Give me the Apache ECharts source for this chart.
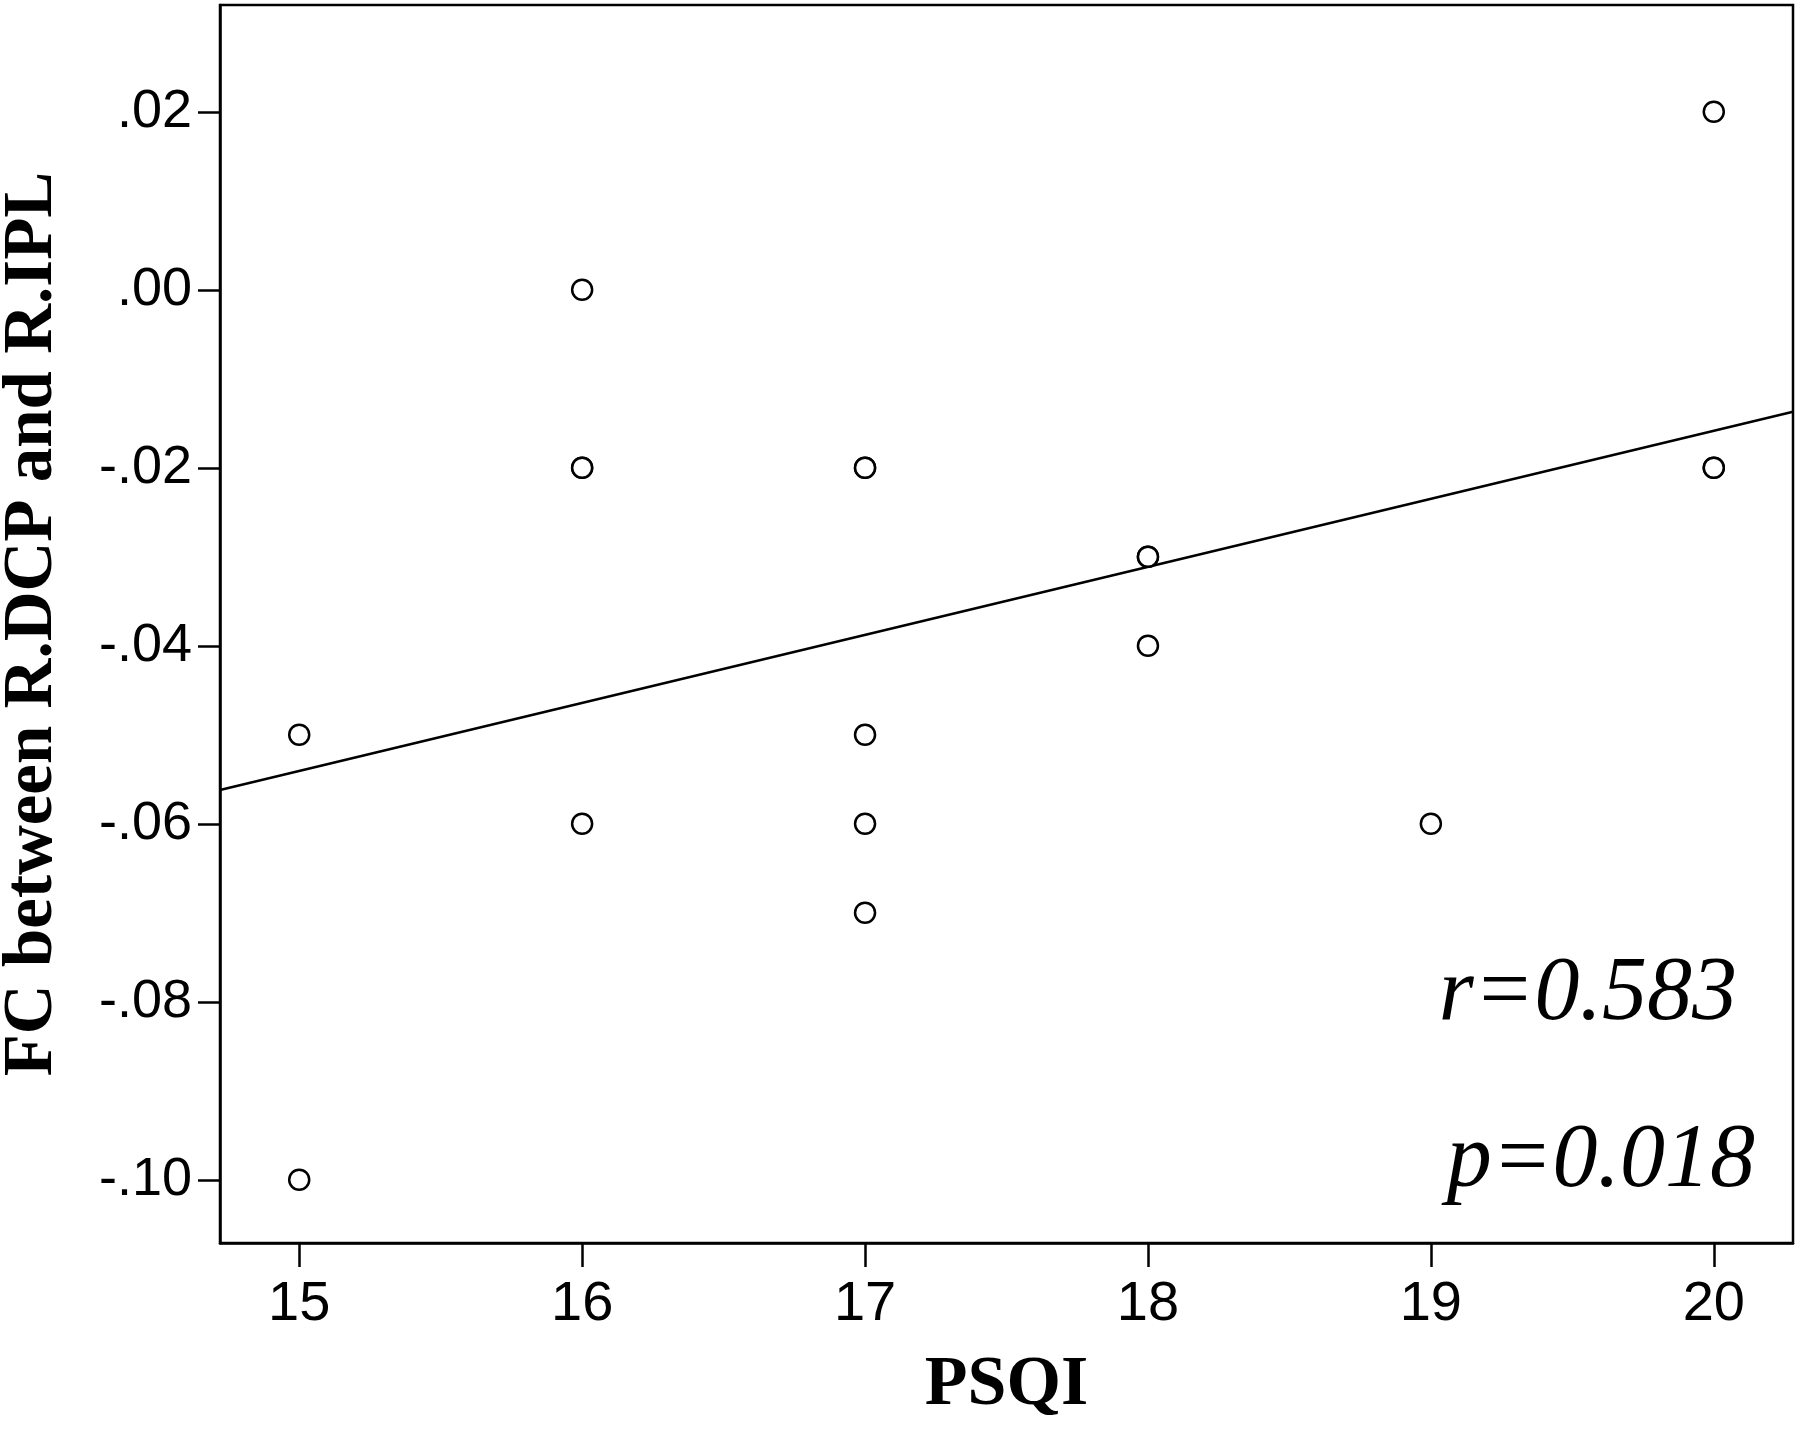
<!DOCTYPE html>
<html lang="en">
<head>
  <meta charset="UTF-8" />
  <title>FC vs PSQI</title>
  <script src="https://cdn.jsdelivr.net/npm/echarts@6/dist/echarts.min.js"></script>
  <style>
    html, body { margin: 0; padding: 0; background: #fff; }
    #chart { width: 1803px; height: 1429px; }
  </style>
</head>
<body>
  <div id="chart"></div>
  <script>
    // PSQI score and FC value for each subject
    var psqi = [15, 15, 16, 16, 16, 16, 17, 17, 17, 17, 17, 18, 18, 18, 19, 20, 20, 20];
    var fc   = [-0.05, -0.10, 0.00, -0.02, -0.02, -0.06, -0.02, -0.02, -0.05, -0.06, -0.07, -0.03, -0.03, -0.04, -0.06, 0.02, -0.02, -0.02];

    // fit line, ends read at the plot edges
    var fitX = [14.72, 20.28];
    var fitY = [-0.0562, -0.0137];

    var xTicks = [15, 16, 17, 18, 19, 20];
    var yTicks = [-0.10, -0.08, -0.06, -0.04, -0.02, 0.00, 0.02];

    var points = psqi.map(function (x, i) { return [x, fc[i]]; });
    var fitLine = fitX.map(function (x, i) { return [x, fitY[i]]; });

    var serif = '"Liberation Serif", "Times New Roman", serif';
    var sans = '"Liberation Sans", Arial, sans-serif';

    function yLabel(v) {
      return v.toFixed(2).replace('0.', '.');
    }

    var chart = echarts.init(document.getElementById('chart'));
    chart.setOption({
      animation: false,
      backgroundColor: '#fff',
      grid: {
        left: 220, right: 10, top: 5, bottom: 186,
        outerBoundsMode: 'none',
        containLabel: false,
        show: true, borderColor: '#000', borderWidth: 2.5, backgroundColor: 'transparent'
      },
      xAxis: {
        type: 'value',
        min: 14.72, max: 20.28,
        name: 'PSQI',
        nameLocation: 'middle',
        nameGap: 108,
        nameTextStyle: { fontFamily: serif, fontWeight: 'bold', fontSize: 70, color: '#000' },
        axisLine: { show: true, onZero: false, lineStyle: { color: '#000', width: 2.5 } },
        axisTick: { show: true, inside: false, length: 24, customValues: xTicks, lineStyle: { color: '#000', width: 2.5 } },
        axisLabel: { customValues: xTicks, margin: 34, fontFamily: sans, fontSize: 56, color: '#000' },
        splitLine: { show: false }
      },
      yAxis: {
        type: 'value',
        min: -0.1071, max: 0.032,
        name: 'FC between R.DCP and R.IPL',
        nameLocation: 'middle',
        nameRotate: 90,
        nameGap: 152,
        nameTextStyle: { fontFamily: serif, fontWeight: 'bold', fontSize: 69, color: '#000' },
        axisLine: { show: true, onZero: false, lineStyle: { color: '#000', width: 2.5 } },
        axisTick: { show: true, inside: false, length: 22, customValues: yTicks, lineStyle: { color: '#000', width: 2.5 } },
        axisLabel: { customValues: yTicks, margin: 28, formatter: yLabel, fontFamily: sans, fontSize: 54, color: '#000' },
        splitLine: { show: false }
      },
      series: [
        {
          type: 'line',
          data: fitLine,
          symbol: 'none',
          lineStyle: { color: '#000', width: 2.5 },
          z: 2
        },
        {
          type: 'scatter',
          data: points,
          symbol: 'circle',
          symbolSize: 20,
          itemStyle: { color: '#fff', borderColor: '#000', borderWidth: 2.5, opacity: 1 },
          z: 3
        }
      ],
      graphic: [
        {
          type: 'text',
          right: 66, top: 950,
          style: { text: 'r=0.583', fontFamily: serif, fontStyle: 'italic', fontSize: 90, fill: '#000' }
        },
        {
          type: 'text',
          right: 48, top: 1117,
          style: { text: 'p=0.018', fontFamily: serif, fontStyle: 'italic', fontSize: 90, fill: '#000' }
        }
      ]
    });
  </script>
</body>
</html>
